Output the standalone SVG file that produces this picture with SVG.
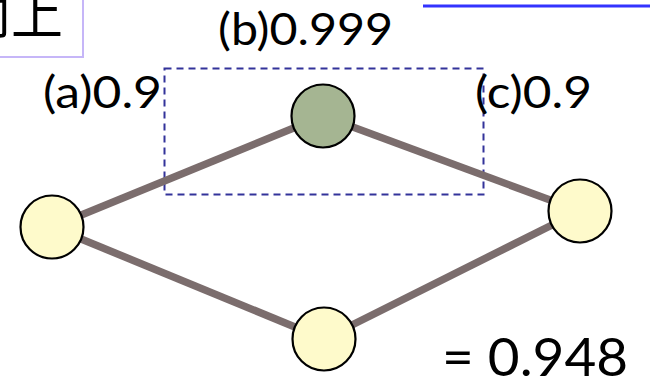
<svg xmlns="http://www.w3.org/2000/svg" width="650" height="382" viewBox="0 0 650 382">
<style>
.edge{stroke:#7b6d6d;stroke-width:7.5;stroke-linecap:butt;fill:none}
.node{stroke:#000;stroke-width:2.2}
.yellow{fill:#fefacb}
.green{fill:#a5b592}
.lbl{font-family:Lato,"Open Sans","Liberation Sans",sans-serif;fill:#000}
</style>
<rect x="0" y="0" width="650" height="382" fill="#fff"/>
<g id="title-box">
<rect x="-20" y="-20" width="103" height="77" fill="#fff" stroke="#c6b6f8" stroke-width="2"/>
<text x="63" y="34" font-family="'Noto Sans CJK SC','Noto Sans CJK JP',sans-serif" font-size="52" text-anchor="end" fill="#000">向上</text>
</g>
<g id="link">
<rect x="423" y="4.5" width="227" height="3" fill="#3333ff"/>
</g>
<g id="group-box">
<rect x="164.5" y="68.5" width="319" height="126" fill="none" stroke="#33339a" stroke-width="2" stroke-dasharray="7,5"/>
</g>
<g id="connectors">
<line class="edge" x1="52" y1="227" x2="323" y2="116"/>
<line class="edge" x1="323" y1="116" x2="580" y2="211"/>
<line class="edge" x1="52" y1="227" x2="324" y2="339"/>
<line class="edge" x1="324" y1="339" x2="580" y2="211"/>
</g>
<g id="node-left"><circle class="node yellow" cx="52" cy="227" r="31.5"/></g>
<g id="node-top"><circle class="node green" cx="323" cy="116" r="31.5"/></g>
<g id="node-right"><circle class="node yellow" cx="580" cy="211" r="31.5"/></g>
<g id="node-bottom"><circle class="node yellow" cx="324" cy="339" r="31.5"/></g>
<g id="labels">
<text class="lbl" x="218" y="45" font-size="44" textLength="175" lengthAdjust="spacingAndGlyphs">(b)0.999</text>
<text class="lbl" x="43" y="108" font-size="44" textLength="119" lengthAdjust="spacingAndGlyphs">(a)0.9</text>
<text class="lbl" x="475" y="108" font-size="44" textLength="117" lengthAdjust="spacingAndGlyphs">(c)0.9</text>
<text class="lbl" x="442" y="376" font-size="52" textLength="186" lengthAdjust="spacingAndGlyphs">= 0.948</text>
</g>
</svg>
